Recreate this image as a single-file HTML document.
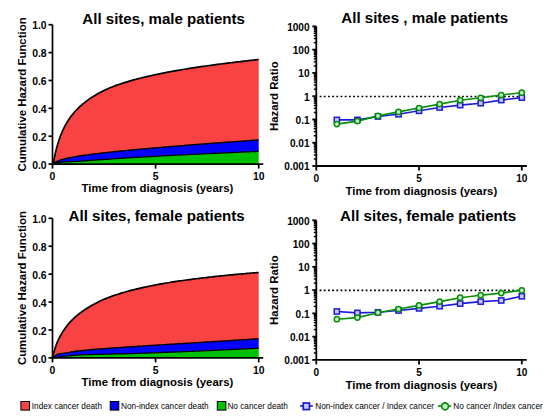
<!DOCTYPE html>
<html><head><meta charset="utf-8"><style>
html,body{margin:0;padding:0;background:#fff;}
body{width:550px;height:417px;overflow:hidden;}
svg{display:block;}
text{font-family:"Liberation Sans",sans-serif;fill:#000;}
</style></head><body>
<svg width="550" height="417" viewBox="0 0 550 417">
<rect width="550" height="417" fill="#fff"/>
<polygon fill="#00c000" points="52.50,164.10 52.63,164.05 52.76,164.01 52.89,163.97 53.02,163.93 53.15,163.89 53.28,163.85 53.41,163.81 53.54,163.77 53.67,163.73 53.81,163.70 53.94,163.66 54.07,163.62 54.20,163.58 54.33,163.54 54.46,163.51 54.59,163.47 54.72,163.43 54.85,163.39 54.98,163.35 55.11,163.32 55.24,163.28 55.37,163.24 55.50,163.21 55.63,163.17 55.76,163.13 55.89,163.09 56.02,163.06 56.15,163.03 56.28,163.01 56.42,162.98 56.55,162.96 56.68,162.94 56.81,162.91 56.94,162.89 57.07,162.86 57.20,162.84 57.33,162.81 57.46,162.79 57.59,162.77 57.72,162.74 57.85,162.72 57.98,162.69 58.11,162.67 58.24,162.65 58.37,162.62 58.50,162.60 58.63,162.57 58.76,162.55 58.89,162.53 59.03,162.50 59.16,162.48 59.29,162.46 59.42,162.43 59.55,162.41 59.68,162.38 59.81,162.36 59.94,162.34 60.07,162.32 60.20,162.31 60.33,162.30 60.46,162.29 60.59,162.28 60.72,162.27 60.85,162.26 60.98,162.25 61.11,162.24 61.24,162.23 61.37,162.22 61.50,162.21 61.64,162.20 61.77,162.19 61.90,162.18 62.03,162.17 62.16,162.16 62.29,162.15 62.42,162.14 62.55,162.13 62.68,162.12 62.81,162.11 64.46,161.99 66.10,161.91 67.75,161.84 69.39,161.76 71.04,161.68 72.69,161.59 74.33,161.50 75.98,161.42 77.63,161.34 79.27,161.23 80.92,161.12 82.56,161.01 84.21,160.90 85.86,160.80 87.50,160.69 89.15,160.59 90.79,160.48 92.44,160.35 94.09,160.23 95.73,160.10 97.38,159.98 99.02,159.86 100.67,159.74 102.32,159.62 103.96,159.51 105.61,159.39 107.26,159.28 108.90,159.16 110.55,159.05 112.19,158.94 113.84,158.83 115.49,158.72 117.13,158.61 118.78,158.50 120.42,158.40 122.07,158.29 123.72,158.19 125.36,158.08 127.01,157.98 128.66,157.88 130.30,157.78 131.95,157.68 133.59,157.58 135.24,157.48 136.89,157.38 138.53,157.28 140.18,157.19 141.82,157.09 143.47,157.00 145.12,156.90 146.76,156.81 148.41,156.71 150.06,156.62 151.70,156.53 153.35,156.44 154.99,156.35 156.64,156.26 158.29,156.17 159.93,156.08 161.58,155.99 163.22,155.90 164.87,155.81 166.52,155.72 168.16,155.64 169.81,155.55 171.45,155.46 173.10,155.38 174.75,155.29 176.39,155.21 178.04,155.12 179.69,155.04 181.33,154.96 182.98,154.87 184.62,154.79 186.27,154.71 187.92,154.63 189.56,154.55 191.21,154.47 192.85,154.38 194.50,154.30 196.15,154.22 197.79,154.14 199.44,154.07 201.09,153.99 202.73,153.91 204.38,153.83 206.02,153.75 207.67,153.67 209.32,153.60 210.96,153.52 212.61,153.44 214.25,153.37 215.90,153.29 217.55,153.22 219.19,153.14 220.84,153.06 222.49,152.99 224.13,152.91 225.78,152.84 227.42,152.77 229.07,152.69 230.72,152.62 232.36,152.55 234.01,152.47 235.65,152.40 237.30,152.33 238.95,152.25 240.59,152.18 242.24,152.11 243.88,152.04 245.53,151.97 247.18,151.90 248.82,151.83 250.47,151.75 252.12,151.68 253.76,151.61 255.41,151.54 257.05,151.47 258.70,151.40 258.70,164.1 52.5,164.1"/>
<polygon fill="#0000fb" points="52.50,164.10 52.63,163.95 52.76,163.83 52.89,163.72 53.02,163.61 53.15,163.50 53.28,163.40 53.41,163.30 53.54,163.21 53.67,163.12 53.81,163.03 53.94,162.94 54.07,162.85 54.20,162.77 54.33,162.69 54.46,162.61 54.59,162.53 54.72,162.45 54.85,162.38 54.98,162.31 55.11,162.23 55.24,162.16 55.37,162.09 55.50,162.03 55.63,161.96 55.76,161.89 55.89,161.83 56.02,161.77 56.15,161.70 56.28,161.64 56.42,161.58 56.55,161.52 56.68,161.46 56.81,161.41 56.94,161.35 57.07,161.29 57.20,161.24 57.33,161.18 57.46,161.13 57.59,161.08 57.72,161.02 57.85,160.97 57.98,160.92 58.11,160.87 58.24,160.82 58.37,160.77 58.50,160.72 58.63,160.67 58.76,160.63 58.89,160.58 59.03,160.53 59.16,160.49 59.29,160.44 59.42,160.39 59.55,160.35 59.68,160.31 59.81,160.26 59.94,160.22 60.07,160.18 60.20,160.13 60.33,160.09 60.46,160.05 60.59,160.01 60.72,159.97 60.85,159.93 60.98,159.89 61.11,159.85 61.24,159.81 61.37,159.77 61.50,159.73 61.64,159.69 61.77,159.65 61.90,159.61 62.03,159.58 62.16,159.54 62.29,159.50 62.42,159.46 62.55,159.43 62.68,159.39 62.81,159.36 64.46,158.92 66.10,158.52 67.75,158.15 69.39,157.80 71.04,157.47 72.69,157.16 74.33,156.87 75.98,156.58 77.63,156.31 79.27,156.04 80.92,155.79 82.56,155.54 84.21,155.30 85.86,155.07 87.50,154.84 89.15,154.62 90.79,154.40 92.44,154.19 94.09,153.98 95.73,153.78 97.38,153.58 99.02,153.38 100.67,153.19 102.32,153.00 103.96,152.81 105.61,152.63 107.26,152.45 108.90,152.27 110.55,152.09 112.19,151.92 113.84,151.74 115.49,151.57 117.13,151.40 118.78,151.24 120.42,151.07 122.07,150.91 123.72,150.74 125.36,150.58 127.01,150.42 128.66,150.27 130.30,150.11 131.95,149.96 133.59,149.80 135.24,149.65 136.89,149.50 138.53,149.35 140.18,149.20 141.82,149.05 143.47,148.90 145.12,148.75 146.76,148.61 148.41,148.46 150.06,148.32 151.70,148.18 153.35,148.03 154.99,147.89 156.64,147.75 158.29,147.61 159.93,147.47 161.58,147.33 163.22,147.19 164.87,147.06 166.52,146.92 168.16,146.78 169.81,146.65 171.45,146.51 173.10,146.38 174.75,146.25 176.39,146.11 178.04,145.98 179.69,145.85 181.33,145.72 182.98,145.58 184.62,145.45 186.27,145.32 187.92,145.19 189.56,145.06 191.21,144.93 192.85,144.81 194.50,144.68 196.15,144.55 197.79,144.42 199.44,144.30 201.09,144.17 202.73,144.04 204.38,143.92 206.02,143.79 207.67,143.67 209.32,143.54 210.96,143.42 212.61,143.29 214.25,143.17 215.90,143.05 217.55,142.92 219.19,142.80 220.84,142.68 222.49,142.55 224.13,142.43 225.78,142.31 227.42,142.19 229.07,142.07 230.72,141.95 232.36,141.83 234.01,141.71 235.65,141.59 237.30,141.47 238.95,141.35 240.59,141.23 242.24,141.11 243.88,140.99 245.53,140.87 247.18,140.75 248.82,140.63 250.47,140.52 252.12,140.40 253.76,140.28 255.41,140.16 257.05,140.05 258.70,139.93 258.70,151.40 257.05,151.47 255.41,151.54 253.76,151.61 252.12,151.68 250.47,151.75 248.82,151.83 247.18,151.90 245.53,151.97 243.88,152.04 242.24,152.11 240.59,152.18 238.95,152.25 237.30,152.33 235.65,152.40 234.01,152.47 232.36,152.55 230.72,152.62 229.07,152.69 227.42,152.77 225.78,152.84 224.13,152.91 222.49,152.99 220.84,153.06 219.19,153.14 217.55,153.22 215.90,153.29 214.25,153.37 212.61,153.44 210.96,153.52 209.32,153.60 207.67,153.67 206.02,153.75 204.38,153.83 202.73,153.91 201.09,153.99 199.44,154.07 197.79,154.14 196.15,154.22 194.50,154.30 192.85,154.38 191.21,154.47 189.56,154.55 187.92,154.63 186.27,154.71 184.62,154.79 182.98,154.87 181.33,154.96 179.69,155.04 178.04,155.12 176.39,155.21 174.75,155.29 173.10,155.38 171.45,155.46 169.81,155.55 168.16,155.64 166.52,155.72 164.87,155.81 163.22,155.90 161.58,155.99 159.93,156.08 158.29,156.17 156.64,156.26 154.99,156.35 153.35,156.44 151.70,156.53 150.06,156.62 148.41,156.71 146.76,156.81 145.12,156.90 143.47,157.00 141.82,157.09 140.18,157.19 138.53,157.28 136.89,157.38 135.24,157.48 133.59,157.58 131.95,157.68 130.30,157.78 128.66,157.88 127.01,157.98 125.36,158.08 123.72,158.19 122.07,158.29 120.42,158.40 118.78,158.50 117.13,158.61 115.49,158.72 113.84,158.83 112.19,158.94 110.55,159.05 108.90,159.16 107.26,159.28 105.61,159.39 103.96,159.51 102.32,159.62 100.67,159.74 99.02,159.86 97.38,159.98 95.73,160.10 94.09,160.23 92.44,160.35 90.79,160.48 89.15,160.59 87.50,160.69 85.86,160.80 84.21,160.90 82.56,161.01 80.92,161.12 79.27,161.23 77.63,161.34 75.98,161.42 74.33,161.50 72.69,161.59 71.04,161.68 69.39,161.76 67.75,161.84 66.10,161.91 64.46,161.99 62.81,162.11 62.68,162.12 62.55,162.13 62.42,162.14 62.29,162.15 62.16,162.16 62.03,162.17 61.90,162.18 61.77,162.19 61.64,162.20 61.50,162.21 61.37,162.22 61.24,162.23 61.11,162.24 60.98,162.25 60.85,162.26 60.72,162.27 60.59,162.28 60.46,162.29 60.33,162.30 60.20,162.31 60.07,162.32 59.94,162.34 59.81,162.36 59.68,162.38 59.55,162.41 59.42,162.43 59.29,162.46 59.16,162.48 59.03,162.50 58.89,162.53 58.76,162.55 58.63,162.57 58.50,162.60 58.37,162.62 58.24,162.65 58.11,162.67 57.98,162.69 57.85,162.72 57.72,162.74 57.59,162.77 57.46,162.79 57.33,162.81 57.20,162.84 57.07,162.86 56.94,162.89 56.81,162.91 56.68,162.94 56.55,162.96 56.42,162.98 56.28,163.01 56.15,163.03 56.02,163.06 55.89,163.09 55.76,163.13 55.63,163.17 55.50,163.21 55.37,163.24 55.24,163.28 55.11,163.32 54.98,163.35 54.85,163.39 54.72,163.43 54.59,163.47 54.46,163.51 54.33,163.54 54.20,163.58 54.07,163.62 53.94,163.66 53.81,163.70 53.67,163.73 53.54,163.77 53.41,163.81 53.28,163.85 53.15,163.89 53.02,163.93 52.89,163.97 52.76,164.01 52.63,164.05 52.50,164.10"/>
<polygon fill="#f94242" points="52.50,164.10 52.63,163.95 52.76,163.83 52.89,163.72 53.02,163.61 53.15,163.50 53.28,163.04 53.41,162.40 53.54,161.75 53.67,161.10 53.81,160.44 53.94,159.79 54.07,159.15 54.20,158.51 54.33,157.87 54.46,157.25 54.59,156.63 54.72,156.02 54.85,155.42 54.98,154.83 55.11,154.24 55.24,153.67 55.37,153.10 55.50,152.54 55.63,151.99 55.76,151.45 55.89,150.92 56.02,150.39 56.15,149.86 56.28,149.34 56.42,148.83 56.55,148.33 56.68,147.83 56.81,147.34 56.94,146.86 57.07,146.38 57.20,145.91 57.33,145.45 57.46,145.00 57.59,144.55 57.72,144.10 57.85,143.66 57.98,143.23 58.11,142.81 58.24,142.38 58.37,141.97 58.50,141.56 58.63,141.15 58.76,140.75 58.89,140.36 59.03,139.97 59.16,139.59 59.29,139.21 59.42,138.83 59.55,138.46 59.68,138.09 59.81,137.73 59.94,137.37 60.07,137.02 60.20,136.67 60.33,136.32 60.46,135.98 60.59,135.64 60.72,135.31 60.85,134.98 60.98,134.65 61.11,134.33 61.24,134.01 61.37,133.69 61.50,133.38 61.64,133.07 61.77,132.76 61.90,132.46 62.03,132.15 62.16,131.85 62.29,131.55 62.42,131.26 62.55,130.96 62.68,130.67 62.81,130.38 64.46,126.97 66.10,123.92 67.75,121.17 69.39,118.66 71.04,116.37 72.69,114.26 74.33,112.30 75.98,110.49 77.63,108.79 79.27,107.21 80.92,105.69 82.56,104.24 84.21,102.87 85.86,101.57 87.50,100.33 89.15,99.16 90.79,98.03 92.44,96.96 94.09,95.93 95.73,94.95 97.38,94.00 99.02,93.09 100.67,92.22 102.32,91.37 103.96,90.56 105.61,89.77 107.26,89.01 108.90,88.27 110.55,87.57 112.19,86.92 113.84,86.28 115.49,85.67 117.13,85.07 118.78,84.49 120.42,83.93 122.07,83.38 123.72,82.85 125.36,82.33 127.01,81.83 128.66,81.33 130.30,80.85 131.95,80.39 133.59,79.93 135.24,79.48 136.89,79.05 138.53,78.62 140.18,78.21 141.82,77.80 143.47,77.40 145.12,77.01 146.76,76.63 148.41,76.26 150.06,75.89 151.70,75.52 153.35,75.15 154.99,74.79 156.64,74.44 158.29,74.09 159.93,73.75 161.58,73.42 163.22,73.09 164.87,72.76 166.52,72.44 168.16,72.13 169.81,71.82 171.45,71.51 173.10,71.21 174.75,70.92 176.39,70.63 178.04,70.34 179.69,70.06 181.33,69.78 182.98,69.51 184.62,69.23 186.27,68.97 187.92,68.70 189.56,68.44 191.21,68.19 192.85,67.93 194.50,67.68 196.15,67.43 197.79,67.19 199.44,66.95 201.09,66.70 202.73,66.46 204.38,66.23 206.02,65.99 207.67,65.76 209.32,65.53 210.96,65.30 212.61,65.08 214.25,64.86 215.90,64.64 217.55,64.42 219.19,64.20 220.84,63.99 222.49,63.78 224.13,63.57 225.78,63.36 227.42,63.16 229.07,62.95 230.72,62.75 232.36,62.55 234.01,62.35 235.65,62.15 237.30,61.96 238.95,61.76 240.59,61.57 242.24,61.38 243.88,61.19 245.53,61.00 247.18,60.82 248.82,60.63 250.47,60.45 252.12,60.26 253.76,60.07 255.41,59.88 257.05,59.70 258.70,59.52 258.70,139.93 257.05,140.05 255.41,140.16 253.76,140.28 252.12,140.40 250.47,140.52 248.82,140.63 247.18,140.75 245.53,140.87 243.88,140.99 242.24,141.11 240.59,141.23 238.95,141.35 237.30,141.47 235.65,141.59 234.01,141.71 232.36,141.83 230.72,141.95 229.07,142.07 227.42,142.19 225.78,142.31 224.13,142.43 222.49,142.55 220.84,142.68 219.19,142.80 217.55,142.92 215.90,143.05 214.25,143.17 212.61,143.29 210.96,143.42 209.32,143.54 207.67,143.67 206.02,143.79 204.38,143.92 202.73,144.04 201.09,144.17 199.44,144.30 197.79,144.42 196.15,144.55 194.50,144.68 192.85,144.81 191.21,144.93 189.56,145.06 187.92,145.19 186.27,145.32 184.62,145.45 182.98,145.58 181.33,145.72 179.69,145.85 178.04,145.98 176.39,146.11 174.75,146.25 173.10,146.38 171.45,146.51 169.81,146.65 168.16,146.78 166.52,146.92 164.87,147.06 163.22,147.19 161.58,147.33 159.93,147.47 158.29,147.61 156.64,147.75 154.99,147.89 153.35,148.03 151.70,148.18 150.06,148.32 148.41,148.46 146.76,148.61 145.12,148.75 143.47,148.90 141.82,149.05 140.18,149.20 138.53,149.35 136.89,149.50 135.24,149.65 133.59,149.80 131.95,149.96 130.30,150.11 128.66,150.27 127.01,150.42 125.36,150.58 123.72,150.74 122.07,150.91 120.42,151.07 118.78,151.24 117.13,151.40 115.49,151.57 113.84,151.74 112.19,151.92 110.55,152.09 108.90,152.27 107.26,152.45 105.61,152.63 103.96,152.81 102.32,153.00 100.67,153.19 99.02,153.38 97.38,153.58 95.73,153.78 94.09,153.98 92.44,154.19 90.79,154.40 89.15,154.62 87.50,154.84 85.86,155.07 84.21,155.30 82.56,155.54 80.92,155.79 79.27,156.04 77.63,156.31 75.98,156.58 74.33,156.87 72.69,157.16 71.04,157.47 69.39,157.80 67.75,158.15 66.10,158.52 64.46,158.92 62.81,159.36 62.68,159.39 62.55,159.43 62.42,159.46 62.29,159.50 62.16,159.54 62.03,159.58 61.90,159.61 61.77,159.65 61.64,159.69 61.50,159.73 61.37,159.77 61.24,159.81 61.11,159.85 60.98,159.89 60.85,159.93 60.72,159.97 60.59,160.01 60.46,160.05 60.33,160.09 60.20,160.13 60.07,160.18 59.94,160.22 59.81,160.26 59.68,160.31 59.55,160.35 59.42,160.39 59.29,160.44 59.16,160.49 59.03,160.53 58.89,160.58 58.76,160.63 58.63,160.67 58.50,160.72 58.37,160.77 58.24,160.82 58.11,160.87 57.98,160.92 57.85,160.97 57.72,161.02 57.59,161.08 57.46,161.13 57.33,161.18 57.20,161.24 57.07,161.29 56.94,161.35 56.81,161.41 56.68,161.46 56.55,161.52 56.42,161.58 56.28,161.64 56.15,161.70 56.02,161.77 55.89,161.83 55.76,161.89 55.63,161.96 55.50,162.03 55.37,162.09 55.24,162.16 55.11,162.23 54.98,162.31 54.85,162.38 54.72,162.45 54.59,162.53 54.46,162.61 54.33,162.69 54.20,162.77 54.07,162.85 53.94,162.94 53.81,163.03 53.67,163.12 53.54,163.21 53.41,163.30 53.28,163.40 53.15,163.50 53.02,163.61 52.89,163.72 52.76,163.83 52.63,163.95 52.50,164.10"/>
<polyline fill="none" stroke="#000" stroke-width="1.25" points="52.50,164.10 52.63,164.05 52.76,164.01 52.89,163.97 53.02,163.93 53.15,163.89 53.28,163.85 53.41,163.81 53.54,163.77 53.67,163.73 53.81,163.70 53.94,163.66 54.07,163.62 54.20,163.58 54.33,163.54 54.46,163.51 54.59,163.47 54.72,163.43 54.85,163.39 54.98,163.35 55.11,163.32 55.24,163.28 55.37,163.24 55.50,163.21 55.63,163.17 55.76,163.13 55.89,163.09 56.02,163.06 56.15,163.03 56.28,163.01 56.42,162.98 56.55,162.96 56.68,162.94 56.81,162.91 56.94,162.89 57.07,162.86 57.20,162.84 57.33,162.81 57.46,162.79 57.59,162.77 57.72,162.74 57.85,162.72 57.98,162.69 58.11,162.67 58.24,162.65 58.37,162.62 58.50,162.60 58.63,162.57 58.76,162.55 58.89,162.53 59.03,162.50 59.16,162.48 59.29,162.46 59.42,162.43 59.55,162.41 59.68,162.38 59.81,162.36 59.94,162.34 60.07,162.32 60.20,162.31 60.33,162.30 60.46,162.29 60.59,162.28 60.72,162.27 60.85,162.26 60.98,162.25 61.11,162.24 61.24,162.23 61.37,162.22 61.50,162.21 61.64,162.20 61.77,162.19 61.90,162.18 62.03,162.17 62.16,162.16 62.29,162.15 62.42,162.14 62.55,162.13 62.68,162.12 62.81,162.11 64.46,161.99 66.10,161.91 67.75,161.84 69.39,161.76 71.04,161.68 72.69,161.59 74.33,161.50 75.98,161.42 77.63,161.34 79.27,161.23 80.92,161.12 82.56,161.01 84.21,160.90 85.86,160.80 87.50,160.69 89.15,160.59 90.79,160.48 92.44,160.35 94.09,160.23 95.73,160.10 97.38,159.98 99.02,159.86 100.67,159.74 102.32,159.62 103.96,159.51 105.61,159.39 107.26,159.28 108.90,159.16 110.55,159.05 112.19,158.94 113.84,158.83 115.49,158.72 117.13,158.61 118.78,158.50 120.42,158.40 122.07,158.29 123.72,158.19 125.36,158.08 127.01,157.98 128.66,157.88 130.30,157.78 131.95,157.68 133.59,157.58 135.24,157.48 136.89,157.38 138.53,157.28 140.18,157.19 141.82,157.09 143.47,157.00 145.12,156.90 146.76,156.81 148.41,156.71 150.06,156.62 151.70,156.53 153.35,156.44 154.99,156.35 156.64,156.26 158.29,156.17 159.93,156.08 161.58,155.99 163.22,155.90 164.87,155.81 166.52,155.72 168.16,155.64 169.81,155.55 171.45,155.46 173.10,155.38 174.75,155.29 176.39,155.21 178.04,155.12 179.69,155.04 181.33,154.96 182.98,154.87 184.62,154.79 186.27,154.71 187.92,154.63 189.56,154.55 191.21,154.47 192.85,154.38 194.50,154.30 196.15,154.22 197.79,154.14 199.44,154.07 201.09,153.99 202.73,153.91 204.38,153.83 206.02,153.75 207.67,153.67 209.32,153.60 210.96,153.52 212.61,153.44 214.25,153.37 215.90,153.29 217.55,153.22 219.19,153.14 220.84,153.06 222.49,152.99 224.13,152.91 225.78,152.84 227.42,152.77 229.07,152.69 230.72,152.62 232.36,152.55 234.01,152.47 235.65,152.40 237.30,152.33 238.95,152.25 240.59,152.18 242.24,152.11 243.88,152.04 245.53,151.97 247.18,151.90 248.82,151.83 250.47,151.75 252.12,151.68 253.76,151.61 255.41,151.54 257.05,151.47 258.70,151.40"/>
<polyline fill="none" stroke="#000" stroke-width="1.4" points="52.50,164.10 52.63,163.95 52.76,163.83 52.89,163.72 53.02,163.61 53.15,163.50 53.28,163.40 53.41,163.30 53.54,163.21 53.67,163.12 53.81,163.03 53.94,162.94 54.07,162.85 54.20,162.77 54.33,162.69 54.46,162.61 54.59,162.53 54.72,162.45 54.85,162.38 54.98,162.31 55.11,162.23 55.24,162.16 55.37,162.09 55.50,162.03 55.63,161.96 55.76,161.89 55.89,161.83 56.02,161.77 56.15,161.70 56.28,161.64 56.42,161.58 56.55,161.52 56.68,161.46 56.81,161.41 56.94,161.35 57.07,161.29 57.20,161.24 57.33,161.18 57.46,161.13 57.59,161.08 57.72,161.02 57.85,160.97 57.98,160.92 58.11,160.87 58.24,160.82 58.37,160.77 58.50,160.72 58.63,160.67 58.76,160.63 58.89,160.58 59.03,160.53 59.16,160.49 59.29,160.44 59.42,160.39 59.55,160.35 59.68,160.31 59.81,160.26 59.94,160.22 60.07,160.18 60.20,160.13 60.33,160.09 60.46,160.05 60.59,160.01 60.72,159.97 60.85,159.93 60.98,159.89 61.11,159.85 61.24,159.81 61.37,159.77 61.50,159.73 61.64,159.69 61.77,159.65 61.90,159.61 62.03,159.58 62.16,159.54 62.29,159.50 62.42,159.46 62.55,159.43 62.68,159.39 62.81,159.36 64.46,158.92 66.10,158.52 67.75,158.15 69.39,157.80 71.04,157.47 72.69,157.16 74.33,156.87 75.98,156.58 77.63,156.31 79.27,156.04 80.92,155.79 82.56,155.54 84.21,155.30 85.86,155.07 87.50,154.84 89.15,154.62 90.79,154.40 92.44,154.19 94.09,153.98 95.73,153.78 97.38,153.58 99.02,153.38 100.67,153.19 102.32,153.00 103.96,152.81 105.61,152.63 107.26,152.45 108.90,152.27 110.55,152.09 112.19,151.92 113.84,151.74 115.49,151.57 117.13,151.40 118.78,151.24 120.42,151.07 122.07,150.91 123.72,150.74 125.36,150.58 127.01,150.42 128.66,150.27 130.30,150.11 131.95,149.96 133.59,149.80 135.24,149.65 136.89,149.50 138.53,149.35 140.18,149.20 141.82,149.05 143.47,148.90 145.12,148.75 146.76,148.61 148.41,148.46 150.06,148.32 151.70,148.18 153.35,148.03 154.99,147.89 156.64,147.75 158.29,147.61 159.93,147.47 161.58,147.33 163.22,147.19 164.87,147.06 166.52,146.92 168.16,146.78 169.81,146.65 171.45,146.51 173.10,146.38 174.75,146.25 176.39,146.11 178.04,145.98 179.69,145.85 181.33,145.72 182.98,145.58 184.62,145.45 186.27,145.32 187.92,145.19 189.56,145.06 191.21,144.93 192.85,144.81 194.50,144.68 196.15,144.55 197.79,144.42 199.44,144.30 201.09,144.17 202.73,144.04 204.38,143.92 206.02,143.79 207.67,143.67 209.32,143.54 210.96,143.42 212.61,143.29 214.25,143.17 215.90,143.05 217.55,142.92 219.19,142.80 220.84,142.68 222.49,142.55 224.13,142.43 225.78,142.31 227.42,142.19 229.07,142.07 230.72,141.95 232.36,141.83 234.01,141.71 235.65,141.59 237.30,141.47 238.95,141.35 240.59,141.23 242.24,141.11 243.88,140.99 245.53,140.87 247.18,140.75 248.82,140.63 250.47,140.52 252.12,140.40 253.76,140.28 255.41,140.16 257.05,140.05 258.70,139.93"/>
<polyline fill="none" stroke="#000" stroke-width="1.7" points="52.50,164.10 52.63,163.95 52.76,163.83 52.89,163.72 53.02,163.61 53.15,163.50 53.28,163.04 53.41,162.40 53.54,161.75 53.67,161.10 53.81,160.44 53.94,159.79 54.07,159.15 54.20,158.51 54.33,157.87 54.46,157.25 54.59,156.63 54.72,156.02 54.85,155.42 54.98,154.83 55.11,154.24 55.24,153.67 55.37,153.10 55.50,152.54 55.63,151.99 55.76,151.45 55.89,150.92 56.02,150.39 56.15,149.86 56.28,149.34 56.42,148.83 56.55,148.33 56.68,147.83 56.81,147.34 56.94,146.86 57.07,146.38 57.20,145.91 57.33,145.45 57.46,145.00 57.59,144.55 57.72,144.10 57.85,143.66 57.98,143.23 58.11,142.81 58.24,142.38 58.37,141.97 58.50,141.56 58.63,141.15 58.76,140.75 58.89,140.36 59.03,139.97 59.16,139.59 59.29,139.21 59.42,138.83 59.55,138.46 59.68,138.09 59.81,137.73 59.94,137.37 60.07,137.02 60.20,136.67 60.33,136.32 60.46,135.98 60.59,135.64 60.72,135.31 60.85,134.98 60.98,134.65 61.11,134.33 61.24,134.01 61.37,133.69 61.50,133.38 61.64,133.07 61.77,132.76 61.90,132.46 62.03,132.15 62.16,131.85 62.29,131.55 62.42,131.26 62.55,130.96 62.68,130.67 62.81,130.38 64.46,126.97 66.10,123.92 67.75,121.17 69.39,118.66 71.04,116.37 72.69,114.26 74.33,112.30 75.98,110.49 77.63,108.79 79.27,107.21 80.92,105.69 82.56,104.24 84.21,102.87 85.86,101.57 87.50,100.33 89.15,99.16 90.79,98.03 92.44,96.96 94.09,95.93 95.73,94.95 97.38,94.00 99.02,93.09 100.67,92.22 102.32,91.37 103.96,90.56 105.61,89.77 107.26,89.01 108.90,88.27 110.55,87.57 112.19,86.92 113.84,86.28 115.49,85.67 117.13,85.07 118.78,84.49 120.42,83.93 122.07,83.38 123.72,82.85 125.36,82.33 127.01,81.83 128.66,81.33 130.30,80.85 131.95,80.39 133.59,79.93 135.24,79.48 136.89,79.05 138.53,78.62 140.18,78.21 141.82,77.80 143.47,77.40 145.12,77.01 146.76,76.63 148.41,76.26 150.06,75.89 151.70,75.52 153.35,75.15 154.99,74.79 156.64,74.44 158.29,74.09 159.93,73.75 161.58,73.42 163.22,73.09 164.87,72.76 166.52,72.44 168.16,72.13 169.81,71.82 171.45,71.51 173.10,71.21 174.75,70.92 176.39,70.63 178.04,70.34 179.69,70.06 181.33,69.78 182.98,69.51 184.62,69.23 186.27,68.97 187.92,68.70 189.56,68.44 191.21,68.19 192.85,67.93 194.50,67.68 196.15,67.43 197.79,67.19 199.44,66.95 201.09,66.70 202.73,66.46 204.38,66.23 206.02,65.99 207.67,65.76 209.32,65.53 210.96,65.30 212.61,65.08 214.25,64.86 215.90,64.64 217.55,64.42 219.19,64.20 220.84,63.99 222.49,63.78 224.13,63.57 225.78,63.36 227.42,63.16 229.07,62.95 230.72,62.75 232.36,62.55 234.01,62.35 235.65,62.15 237.30,61.96 238.95,61.76 240.59,61.57 242.24,61.38 243.88,61.19 245.53,61.00 247.18,60.82 248.82,60.63 250.47,60.45 252.12,60.26 253.76,60.07 255.41,59.88 257.05,59.70 258.70,59.52"/>
<g stroke="#000" stroke-width="1.7" fill="none">
<path d="M52.5,24.70 V168.60"/>
<path d="M52.5,164.1 H263.20"/>
<path d="M48.5,164.10 H52.5"/>
<path d="M48.5,136.22 H52.5"/>
<path d="M48.5,108.34 H52.5"/>
<path d="M48.5,80.46 H52.5"/>
<path d="M48.5,52.58 H52.5"/>
<path d="M48.5,24.70 H52.5"/>
<path d="M155.60,164.1 V168.60"/>
<path d="M258.70,164.1 V168.60"/>
</g>
<text transform="translate(46.60,168.70) scale(1.0,1.04)" font-size="10.4" font-weight="bold" text-anchor="end">0.0</text>
<text transform="translate(46.60,140.82) scale(1.0,1.04)" font-size="10.4" font-weight="bold" text-anchor="end">0.2</text>
<text transform="translate(46.60,112.94) scale(1.0,1.04)" font-size="10.4" font-weight="bold" text-anchor="end">0.4</text>
<text transform="translate(46.60,85.06) scale(1.0,1.04)" font-size="10.4" font-weight="bold" text-anchor="end">0.6</text>
<text transform="translate(46.60,57.18) scale(1.0,1.04)" font-size="10.4" font-weight="bold" text-anchor="end">0.8</text>
<text transform="translate(46.60,29.30) scale(1.0,1.04)" font-size="10.4" font-weight="bold" text-anchor="end">1.0</text>
<text transform="translate(52.50,180.10) scale(1.0,1.04)" font-size="10.4" font-weight="bold" text-anchor="middle">0</text>
<text transform="translate(155.60,180.10) scale(1.0,1.04)" font-size="10.4" font-weight="bold" text-anchor="middle">5</text>
<text transform="translate(258.70,180.10) scale(1.0,1.04)" font-size="10.4" font-weight="bold" text-anchor="middle">10</text>
<text transform="translate(82.30,23.50) scale(1.0,1.03)" font-size="15.1" font-weight="bold" text-anchor="start">All sites, male patients</text>
<text transform="translate(81.60,192.20)" font-size="11.4" font-weight="bold" text-anchor="start">Time from diagnosis (years)</text>
<text transform="translate(26.20,94.40) rotate(-90)" font-size="11.42" font-weight="bold" text-anchor="middle">Cumulative Hazard Function</text>
<polygon fill="#00c000" points="52.50,357.90 52.63,357.89 52.76,357.88 52.89,357.87 53.02,357.86 53.15,357.84 53.28,357.83 53.41,357.82 53.54,357.81 53.67,357.80 53.81,357.79 53.94,357.78 54.07,357.77 54.20,357.75 54.33,357.74 54.46,357.73 54.59,357.72 54.72,357.71 54.85,357.70 54.98,357.69 55.11,357.68 55.24,357.67 55.37,357.65 55.50,357.64 55.63,357.63 55.76,357.62 55.89,357.61 56.02,357.60 56.15,357.60 56.28,357.59 56.42,357.59 56.55,357.59 56.68,357.58 56.81,357.58 56.94,357.58 57.07,357.57 57.20,357.57 57.33,357.57 57.46,357.54 57.59,357.50 57.72,357.46 57.85,357.43 57.98,357.39 58.11,357.36 58.24,357.32 58.37,357.29 58.50,357.26 58.63,357.23 58.76,357.19 58.89,357.16 59.03,357.13 59.16,357.10 59.29,357.07 59.42,357.04 59.55,357.01 59.68,356.98 59.81,356.95 59.94,356.92 60.07,356.90 60.20,356.87 60.33,356.85 60.46,356.82 60.59,356.80 60.72,356.77 60.85,356.75 60.98,356.73 61.11,356.71 61.24,356.68 61.37,356.66 61.50,356.64 61.64,356.62 61.77,356.60 61.90,356.57 62.03,356.55 62.16,356.53 62.29,356.51 62.42,356.49 62.55,356.47 62.68,356.45 62.81,356.43 64.46,356.21 66.10,356.01 67.75,355.83 69.39,355.68 71.04,355.53 72.69,355.40 74.33,355.29 75.98,355.17 77.63,355.07 79.27,354.99 80.92,354.93 82.56,354.86 84.21,354.80 85.86,354.75 87.50,354.69 89.15,354.64 90.79,354.59 92.44,354.55 94.09,354.50 95.73,354.46 97.38,354.41 99.02,354.37 100.67,354.33 102.32,354.29 103.96,354.25 105.61,354.21 107.26,354.17 108.90,354.14 110.55,354.10 112.19,354.06 113.84,354.02 115.49,353.99 117.13,353.95 118.78,353.91 120.42,353.88 122.07,353.84 123.72,353.80 125.36,353.76 127.01,353.72 128.66,353.69 130.30,353.64 131.95,353.59 133.59,353.53 135.24,353.48 136.89,353.42 138.53,353.37 140.18,353.31 141.82,353.25 143.47,353.19 145.12,353.14 146.76,353.08 148.41,353.02 150.06,352.96 151.70,352.90 153.35,352.84 154.99,352.78 156.64,352.72 158.29,352.66 159.93,352.60 161.58,352.54 163.22,352.48 164.87,352.41 166.52,352.35 168.16,352.29 169.81,352.23 171.45,352.16 173.10,352.10 174.75,352.03 176.39,351.97 178.04,351.90 179.69,351.84 181.33,351.77 182.98,351.70 184.62,351.64 186.27,351.57 187.92,351.50 189.56,351.43 191.21,351.37 192.85,351.30 194.50,351.23 196.15,351.16 197.79,351.09 199.44,351.02 201.09,350.95 202.73,350.88 204.38,350.81 206.02,350.73 207.67,350.66 209.32,350.59 210.96,350.52 212.61,350.44 214.25,350.37 215.90,350.30 217.55,350.22 219.19,350.15 220.84,350.07 222.49,350.00 224.13,349.92 225.78,349.85 227.42,349.77 229.07,349.70 230.72,349.62 232.36,349.54 234.01,349.46 235.65,349.39 237.30,349.31 238.95,349.23 240.59,349.15 242.24,349.07 243.88,348.99 245.53,348.91 247.18,348.83 248.82,348.75 250.47,348.67 252.12,348.59 253.76,348.51 255.41,348.43 257.05,348.35 258.70,348.27 258.70,357.9 52.5,357.9"/>
<polygon fill="#0000fb" points="52.50,357.90 52.63,357.80 52.76,357.69 52.89,357.59 53.02,357.48 53.15,357.38 53.28,357.27 53.41,357.17 53.54,357.06 53.67,356.96 53.81,356.86 53.94,356.75 54.07,356.69 54.20,356.67 54.33,356.65 54.46,356.58 54.59,356.47 54.72,356.37 54.85,356.27 54.98,356.16 55.11,356.06 55.24,355.96 55.37,355.86 55.50,355.77 55.63,355.67 55.76,355.57 55.89,355.48 56.02,355.38 56.15,355.29 56.28,355.20 56.42,355.11 56.55,355.02 56.68,354.93 56.81,354.84 56.94,354.75 57.07,354.67 57.20,354.58 57.33,354.50 57.46,354.42 57.59,354.36 57.72,354.33 57.85,354.29 57.98,354.25 58.11,354.22 58.24,354.18 58.37,354.15 58.50,354.12 58.63,354.09 58.76,354.05 58.89,354.02 59.03,353.99 59.16,353.96 59.29,353.93 59.42,353.91 59.55,353.88 59.68,353.85 59.81,353.83 59.94,353.80 60.07,353.78 60.20,353.75 60.33,353.73 60.46,353.71 60.59,353.68 60.72,353.66 60.85,353.64 60.98,353.62 61.11,353.60 61.24,353.58 61.37,353.56 61.50,353.54 61.64,353.52 61.77,353.50 61.90,353.48 62.03,353.47 62.16,353.45 62.29,353.43 62.42,353.42 62.55,353.40 62.68,353.39 62.81,353.37 64.46,353.08 66.10,352.83 67.75,352.62 69.39,352.33 71.04,352.00 72.69,351.69 74.33,351.43 75.98,351.23 77.63,351.04 79.27,350.87 80.92,350.71 82.56,350.53 84.21,350.36 85.86,350.19 87.50,350.02 89.15,349.87 90.79,349.71 92.44,349.57 94.09,349.42 95.73,349.29 97.38,349.15 99.02,349.02 100.67,348.89 102.32,348.76 103.96,348.64 105.61,348.51 107.26,348.39 108.90,348.27 110.55,348.15 112.19,348.04 113.84,347.92 115.49,347.81 117.13,347.70 118.78,347.59 120.42,347.48 122.07,347.37 123.72,347.26 125.36,347.15 127.01,347.05 128.66,346.94 130.30,346.84 131.95,346.73 133.59,346.62 135.24,346.51 136.89,346.40 138.53,346.30 140.18,346.19 141.82,346.09 143.47,345.98 145.12,345.87 146.76,345.77 148.41,345.66 150.06,345.56 151.70,345.46 153.35,345.35 154.99,345.25 156.64,345.15 158.29,345.04 159.93,344.94 161.58,344.84 163.22,344.73 164.87,344.63 166.52,344.53 168.16,344.43 169.81,344.32 171.45,344.22 173.10,344.12 174.75,344.02 176.39,343.91 178.04,343.81 179.69,343.71 181.33,343.61 182.98,343.51 184.62,343.40 186.27,343.30 187.92,343.20 189.56,343.10 191.21,343.00 192.85,342.89 194.50,342.79 196.15,342.69 197.79,342.59 199.44,342.48 201.09,342.38 202.73,342.28 204.38,342.18 206.02,342.07 207.67,341.97 209.32,341.87 210.96,341.77 212.61,341.66 214.25,341.56 215.90,341.46 217.55,341.35 219.19,341.25 220.84,341.15 222.49,341.04 224.13,340.94 225.78,340.84 227.42,340.73 229.07,340.63 230.72,340.53 232.36,340.42 234.01,340.32 235.65,340.21 237.30,340.11 238.95,340.00 240.59,339.90 242.24,339.80 243.88,339.69 245.53,339.59 247.18,339.48 248.82,339.38 250.47,339.27 252.12,339.16 253.76,339.06 255.41,338.95 257.05,338.85 258.70,338.74 258.70,348.27 257.05,348.35 255.41,348.43 253.76,348.51 252.12,348.59 250.47,348.67 248.82,348.75 247.18,348.83 245.53,348.91 243.88,348.99 242.24,349.07 240.59,349.15 238.95,349.23 237.30,349.31 235.65,349.39 234.01,349.46 232.36,349.54 230.72,349.62 229.07,349.70 227.42,349.77 225.78,349.85 224.13,349.92 222.49,350.00 220.84,350.07 219.19,350.15 217.55,350.22 215.90,350.30 214.25,350.37 212.61,350.44 210.96,350.52 209.32,350.59 207.67,350.66 206.02,350.73 204.38,350.81 202.73,350.88 201.09,350.95 199.44,351.02 197.79,351.09 196.15,351.16 194.50,351.23 192.85,351.30 191.21,351.37 189.56,351.43 187.92,351.50 186.27,351.57 184.62,351.64 182.98,351.70 181.33,351.77 179.69,351.84 178.04,351.90 176.39,351.97 174.75,352.03 173.10,352.10 171.45,352.16 169.81,352.23 168.16,352.29 166.52,352.35 164.87,352.41 163.22,352.48 161.58,352.54 159.93,352.60 158.29,352.66 156.64,352.72 154.99,352.78 153.35,352.84 151.70,352.90 150.06,352.96 148.41,353.02 146.76,353.08 145.12,353.14 143.47,353.19 141.82,353.25 140.18,353.31 138.53,353.37 136.89,353.42 135.24,353.48 133.59,353.53 131.95,353.59 130.30,353.64 128.66,353.69 127.01,353.72 125.36,353.76 123.72,353.80 122.07,353.84 120.42,353.88 118.78,353.91 117.13,353.95 115.49,353.99 113.84,354.02 112.19,354.06 110.55,354.10 108.90,354.14 107.26,354.17 105.61,354.21 103.96,354.25 102.32,354.29 100.67,354.33 99.02,354.37 97.38,354.41 95.73,354.46 94.09,354.50 92.44,354.55 90.79,354.59 89.15,354.64 87.50,354.69 85.86,354.75 84.21,354.80 82.56,354.86 80.92,354.93 79.27,354.99 77.63,355.07 75.98,355.17 74.33,355.29 72.69,355.40 71.04,355.53 69.39,355.68 67.75,355.83 66.10,356.01 64.46,356.21 62.81,356.43 62.68,356.45 62.55,356.47 62.42,356.49 62.29,356.51 62.16,356.53 62.03,356.55 61.90,356.57 61.77,356.60 61.64,356.62 61.50,356.64 61.37,356.66 61.24,356.68 61.11,356.71 60.98,356.73 60.85,356.75 60.72,356.77 60.59,356.80 60.46,356.82 60.33,356.85 60.20,356.87 60.07,356.90 59.94,356.92 59.81,356.95 59.68,356.98 59.55,357.01 59.42,357.04 59.29,357.07 59.16,357.10 59.03,357.13 58.89,357.16 58.76,357.19 58.63,357.23 58.50,357.26 58.37,357.29 58.24,357.32 58.11,357.36 57.98,357.39 57.85,357.43 57.72,357.46 57.59,357.50 57.46,357.54 57.33,357.57 57.20,357.57 57.07,357.57 56.94,357.58 56.81,357.58 56.68,357.58 56.55,357.59 56.42,357.59 56.28,357.59 56.15,357.60 56.02,357.60 55.89,357.61 55.76,357.62 55.63,357.63 55.50,357.64 55.37,357.65 55.24,357.67 55.11,357.68 54.98,357.69 54.85,357.70 54.72,357.71 54.59,357.72 54.46,357.73 54.33,357.74 54.20,357.75 54.07,357.77 53.94,357.78 53.81,357.79 53.67,357.80 53.54,357.81 53.41,357.82 53.28,357.83 53.15,357.84 53.02,357.86 52.89,357.87 52.76,357.88 52.63,357.89 52.50,357.90"/>
<polygon fill="#f94242" points="52.50,357.90 52.63,357.51 52.76,356.95 52.89,356.38 53.02,355.82 53.15,355.26 53.28,354.71 53.41,354.18 53.54,353.66 53.67,353.15 53.81,352.65 53.94,352.16 54.07,351.68 54.20,351.22 54.33,350.76 54.46,350.31 54.59,349.88 54.72,349.45 54.85,349.03 54.98,348.62 55.11,348.20 55.24,347.79 55.37,347.38 55.50,346.99 55.63,346.60 55.76,346.21 55.89,345.84 56.02,345.47 56.15,345.10 56.28,344.75 56.42,344.40 56.55,344.05 56.68,343.71 56.81,343.38 56.94,343.05 57.07,342.73 57.20,342.41 57.33,342.10 57.46,341.79 57.59,341.49 57.72,341.19 57.85,340.90 57.98,340.61 58.11,340.33 58.24,340.05 58.37,339.77 58.50,339.50 58.63,339.23 58.76,338.96 58.89,338.70 59.03,338.44 59.16,338.19 59.29,337.94 59.42,337.69 59.55,337.45 59.68,337.21 59.81,336.97 59.94,336.73 60.07,336.49 60.20,336.23 60.33,335.98 60.46,335.73 60.59,335.48 60.72,335.24 60.85,334.99 60.98,334.75 61.11,334.52 61.24,334.28 61.37,334.05 61.50,333.82 61.64,333.59 61.77,333.37 61.90,333.15 62.03,332.92 62.16,332.71 62.29,332.49 62.42,332.28 62.55,332.06 62.68,331.85 62.81,331.65 64.46,329.18 66.10,326.95 67.75,324.82 69.39,322.87 71.04,321.07 72.69,319.39 74.33,317.83 75.98,316.36 77.63,314.97 79.27,313.66 80.92,312.42 82.56,311.24 84.21,310.11 85.86,309.03 87.50,308.00 89.15,307.01 90.79,306.05 92.44,305.10 94.09,304.19 95.73,303.31 97.38,302.46 99.02,301.63 100.67,300.83 102.32,300.06 103.96,299.30 105.61,298.60 107.26,297.96 108.90,297.34 110.55,296.73 112.19,296.14 113.84,295.57 115.49,295.02 117.13,294.48 118.78,293.95 120.42,293.43 122.07,292.93 123.72,292.44 125.36,291.96 127.01,291.49 128.66,291.03 130.30,290.59 131.95,290.16 133.59,289.75 135.24,289.34 136.89,288.95 138.53,288.56 140.18,288.18 141.82,287.80 143.47,287.44 145.12,287.08 146.76,286.73 148.41,286.38 150.06,286.04 151.70,285.71 153.35,285.38 154.99,285.06 156.64,284.75 158.29,284.44 159.93,284.13 161.58,283.84 163.22,283.56 164.87,283.28 166.52,283.00 168.16,282.74 169.81,282.47 171.45,282.21 173.10,281.95 174.75,281.70 176.39,281.45 178.04,281.21 179.69,280.96 181.33,280.73 182.98,280.49 184.62,280.26 186.27,280.03 187.92,279.81 189.56,279.59 191.21,279.37 192.85,279.16 194.50,278.95 196.15,278.74 197.79,278.53 199.44,278.33 201.09,278.13 202.73,277.93 204.38,277.74 206.02,277.55 207.67,277.36 209.32,277.17 210.96,276.98 212.61,276.80 214.25,276.62 215.90,276.44 217.55,276.27 219.19,276.09 220.84,275.92 222.49,275.75 224.13,275.59 225.78,275.42 227.42,275.26 229.07,275.10 230.72,274.94 232.36,274.78 234.01,274.63 235.65,274.47 237.30,274.32 238.95,274.17 240.59,274.02 242.24,273.87 243.88,273.73 245.53,273.58 247.18,273.44 248.82,273.30 250.47,273.16 252.12,273.02 253.76,272.89 255.41,272.75 257.05,272.62 258.70,272.49 258.70,338.74 257.05,338.85 255.41,338.95 253.76,339.06 252.12,339.16 250.47,339.27 248.82,339.38 247.18,339.48 245.53,339.59 243.88,339.69 242.24,339.80 240.59,339.90 238.95,340.00 237.30,340.11 235.65,340.21 234.01,340.32 232.36,340.42 230.72,340.53 229.07,340.63 227.42,340.73 225.78,340.84 224.13,340.94 222.49,341.04 220.84,341.15 219.19,341.25 217.55,341.35 215.90,341.46 214.25,341.56 212.61,341.66 210.96,341.77 209.32,341.87 207.67,341.97 206.02,342.07 204.38,342.18 202.73,342.28 201.09,342.38 199.44,342.48 197.79,342.59 196.15,342.69 194.50,342.79 192.85,342.89 191.21,343.00 189.56,343.10 187.92,343.20 186.27,343.30 184.62,343.40 182.98,343.51 181.33,343.61 179.69,343.71 178.04,343.81 176.39,343.91 174.75,344.02 173.10,344.12 171.45,344.22 169.81,344.32 168.16,344.43 166.52,344.53 164.87,344.63 163.22,344.73 161.58,344.84 159.93,344.94 158.29,345.04 156.64,345.15 154.99,345.25 153.35,345.35 151.70,345.46 150.06,345.56 148.41,345.66 146.76,345.77 145.12,345.87 143.47,345.98 141.82,346.09 140.18,346.19 138.53,346.30 136.89,346.40 135.24,346.51 133.59,346.62 131.95,346.73 130.30,346.84 128.66,346.94 127.01,347.05 125.36,347.15 123.72,347.26 122.07,347.37 120.42,347.48 118.78,347.59 117.13,347.70 115.49,347.81 113.84,347.92 112.19,348.04 110.55,348.15 108.90,348.27 107.26,348.39 105.61,348.51 103.96,348.64 102.32,348.76 100.67,348.89 99.02,349.02 97.38,349.15 95.73,349.29 94.09,349.42 92.44,349.57 90.79,349.71 89.15,349.87 87.50,350.02 85.86,350.19 84.21,350.36 82.56,350.53 80.92,350.71 79.27,350.87 77.63,351.04 75.98,351.23 74.33,351.43 72.69,351.69 71.04,352.00 69.39,352.33 67.75,352.62 66.10,352.83 64.46,353.08 62.81,353.37 62.68,353.39 62.55,353.40 62.42,353.42 62.29,353.43 62.16,353.45 62.03,353.47 61.90,353.48 61.77,353.50 61.64,353.52 61.50,353.54 61.37,353.56 61.24,353.58 61.11,353.60 60.98,353.62 60.85,353.64 60.72,353.66 60.59,353.68 60.46,353.71 60.33,353.73 60.20,353.75 60.07,353.78 59.94,353.80 59.81,353.83 59.68,353.85 59.55,353.88 59.42,353.91 59.29,353.93 59.16,353.96 59.03,353.99 58.89,354.02 58.76,354.05 58.63,354.09 58.50,354.12 58.37,354.15 58.24,354.18 58.11,354.22 57.98,354.25 57.85,354.29 57.72,354.33 57.59,354.36 57.46,354.42 57.33,354.50 57.20,354.58 57.07,354.67 56.94,354.75 56.81,354.84 56.68,354.93 56.55,355.02 56.42,355.11 56.28,355.20 56.15,355.29 56.02,355.38 55.89,355.48 55.76,355.57 55.63,355.67 55.50,355.77 55.37,355.86 55.24,355.96 55.11,356.06 54.98,356.16 54.85,356.27 54.72,356.37 54.59,356.47 54.46,356.58 54.33,356.65 54.20,356.67 54.07,356.69 53.94,356.75 53.81,356.86 53.67,356.96 53.54,357.06 53.41,357.17 53.28,357.27 53.15,357.38 53.02,357.48 52.89,357.59 52.76,357.69 52.63,357.80 52.50,357.90"/>
<polyline fill="none" stroke="#000" stroke-width="1.25" points="52.50,357.90 52.63,357.89 52.76,357.88 52.89,357.87 53.02,357.86 53.15,357.84 53.28,357.83 53.41,357.82 53.54,357.81 53.67,357.80 53.81,357.79 53.94,357.78 54.07,357.77 54.20,357.75 54.33,357.74 54.46,357.73 54.59,357.72 54.72,357.71 54.85,357.70 54.98,357.69 55.11,357.68 55.24,357.67 55.37,357.65 55.50,357.64 55.63,357.63 55.76,357.62 55.89,357.61 56.02,357.60 56.15,357.60 56.28,357.59 56.42,357.59 56.55,357.59 56.68,357.58 56.81,357.58 56.94,357.58 57.07,357.57 57.20,357.57 57.33,357.57 57.46,357.54 57.59,357.50 57.72,357.46 57.85,357.43 57.98,357.39 58.11,357.36 58.24,357.32 58.37,357.29 58.50,357.26 58.63,357.23 58.76,357.19 58.89,357.16 59.03,357.13 59.16,357.10 59.29,357.07 59.42,357.04 59.55,357.01 59.68,356.98 59.81,356.95 59.94,356.92 60.07,356.90 60.20,356.87 60.33,356.85 60.46,356.82 60.59,356.80 60.72,356.77 60.85,356.75 60.98,356.73 61.11,356.71 61.24,356.68 61.37,356.66 61.50,356.64 61.64,356.62 61.77,356.60 61.90,356.57 62.03,356.55 62.16,356.53 62.29,356.51 62.42,356.49 62.55,356.47 62.68,356.45 62.81,356.43 64.46,356.21 66.10,356.01 67.75,355.83 69.39,355.68 71.04,355.53 72.69,355.40 74.33,355.29 75.98,355.17 77.63,355.07 79.27,354.99 80.92,354.93 82.56,354.86 84.21,354.80 85.86,354.75 87.50,354.69 89.15,354.64 90.79,354.59 92.44,354.55 94.09,354.50 95.73,354.46 97.38,354.41 99.02,354.37 100.67,354.33 102.32,354.29 103.96,354.25 105.61,354.21 107.26,354.17 108.90,354.14 110.55,354.10 112.19,354.06 113.84,354.02 115.49,353.99 117.13,353.95 118.78,353.91 120.42,353.88 122.07,353.84 123.72,353.80 125.36,353.76 127.01,353.72 128.66,353.69 130.30,353.64 131.95,353.59 133.59,353.53 135.24,353.48 136.89,353.42 138.53,353.37 140.18,353.31 141.82,353.25 143.47,353.19 145.12,353.14 146.76,353.08 148.41,353.02 150.06,352.96 151.70,352.90 153.35,352.84 154.99,352.78 156.64,352.72 158.29,352.66 159.93,352.60 161.58,352.54 163.22,352.48 164.87,352.41 166.52,352.35 168.16,352.29 169.81,352.23 171.45,352.16 173.10,352.10 174.75,352.03 176.39,351.97 178.04,351.90 179.69,351.84 181.33,351.77 182.98,351.70 184.62,351.64 186.27,351.57 187.92,351.50 189.56,351.43 191.21,351.37 192.85,351.30 194.50,351.23 196.15,351.16 197.79,351.09 199.44,351.02 201.09,350.95 202.73,350.88 204.38,350.81 206.02,350.73 207.67,350.66 209.32,350.59 210.96,350.52 212.61,350.44 214.25,350.37 215.90,350.30 217.55,350.22 219.19,350.15 220.84,350.07 222.49,350.00 224.13,349.92 225.78,349.85 227.42,349.77 229.07,349.70 230.72,349.62 232.36,349.54 234.01,349.46 235.65,349.39 237.30,349.31 238.95,349.23 240.59,349.15 242.24,349.07 243.88,348.99 245.53,348.91 247.18,348.83 248.82,348.75 250.47,348.67 252.12,348.59 253.76,348.51 255.41,348.43 257.05,348.35 258.70,348.27"/>
<polyline fill="none" stroke="#000" stroke-width="1.4" points="52.50,357.90 52.63,357.80 52.76,357.69 52.89,357.59 53.02,357.48 53.15,357.38 53.28,357.27 53.41,357.17 53.54,357.06 53.67,356.96 53.81,356.86 53.94,356.75 54.07,356.69 54.20,356.67 54.33,356.65 54.46,356.58 54.59,356.47 54.72,356.37 54.85,356.27 54.98,356.16 55.11,356.06 55.24,355.96 55.37,355.86 55.50,355.77 55.63,355.67 55.76,355.57 55.89,355.48 56.02,355.38 56.15,355.29 56.28,355.20 56.42,355.11 56.55,355.02 56.68,354.93 56.81,354.84 56.94,354.75 57.07,354.67 57.20,354.58 57.33,354.50 57.46,354.42 57.59,354.36 57.72,354.33 57.85,354.29 57.98,354.25 58.11,354.22 58.24,354.18 58.37,354.15 58.50,354.12 58.63,354.09 58.76,354.05 58.89,354.02 59.03,353.99 59.16,353.96 59.29,353.93 59.42,353.91 59.55,353.88 59.68,353.85 59.81,353.83 59.94,353.80 60.07,353.78 60.20,353.75 60.33,353.73 60.46,353.71 60.59,353.68 60.72,353.66 60.85,353.64 60.98,353.62 61.11,353.60 61.24,353.58 61.37,353.56 61.50,353.54 61.64,353.52 61.77,353.50 61.90,353.48 62.03,353.47 62.16,353.45 62.29,353.43 62.42,353.42 62.55,353.40 62.68,353.39 62.81,353.37 64.46,353.08 66.10,352.83 67.75,352.62 69.39,352.33 71.04,352.00 72.69,351.69 74.33,351.43 75.98,351.23 77.63,351.04 79.27,350.87 80.92,350.71 82.56,350.53 84.21,350.36 85.86,350.19 87.50,350.02 89.15,349.87 90.79,349.71 92.44,349.57 94.09,349.42 95.73,349.29 97.38,349.15 99.02,349.02 100.67,348.89 102.32,348.76 103.96,348.64 105.61,348.51 107.26,348.39 108.90,348.27 110.55,348.15 112.19,348.04 113.84,347.92 115.49,347.81 117.13,347.70 118.78,347.59 120.42,347.48 122.07,347.37 123.72,347.26 125.36,347.15 127.01,347.05 128.66,346.94 130.30,346.84 131.95,346.73 133.59,346.62 135.24,346.51 136.89,346.40 138.53,346.30 140.18,346.19 141.82,346.09 143.47,345.98 145.12,345.87 146.76,345.77 148.41,345.66 150.06,345.56 151.70,345.46 153.35,345.35 154.99,345.25 156.64,345.15 158.29,345.04 159.93,344.94 161.58,344.84 163.22,344.73 164.87,344.63 166.52,344.53 168.16,344.43 169.81,344.32 171.45,344.22 173.10,344.12 174.75,344.02 176.39,343.91 178.04,343.81 179.69,343.71 181.33,343.61 182.98,343.51 184.62,343.40 186.27,343.30 187.92,343.20 189.56,343.10 191.21,343.00 192.85,342.89 194.50,342.79 196.15,342.69 197.79,342.59 199.44,342.48 201.09,342.38 202.73,342.28 204.38,342.18 206.02,342.07 207.67,341.97 209.32,341.87 210.96,341.77 212.61,341.66 214.25,341.56 215.90,341.46 217.55,341.35 219.19,341.25 220.84,341.15 222.49,341.04 224.13,340.94 225.78,340.84 227.42,340.73 229.07,340.63 230.72,340.53 232.36,340.42 234.01,340.32 235.65,340.21 237.30,340.11 238.95,340.00 240.59,339.90 242.24,339.80 243.88,339.69 245.53,339.59 247.18,339.48 248.82,339.38 250.47,339.27 252.12,339.16 253.76,339.06 255.41,338.95 257.05,338.85 258.70,338.74"/>
<polyline fill="none" stroke="#000" stroke-width="1.7" points="52.50,357.90 52.63,357.51 52.76,356.95 52.89,356.38 53.02,355.82 53.15,355.26 53.28,354.71 53.41,354.18 53.54,353.66 53.67,353.15 53.81,352.65 53.94,352.16 54.07,351.68 54.20,351.22 54.33,350.76 54.46,350.31 54.59,349.88 54.72,349.45 54.85,349.03 54.98,348.62 55.11,348.20 55.24,347.79 55.37,347.38 55.50,346.99 55.63,346.60 55.76,346.21 55.89,345.84 56.02,345.47 56.15,345.10 56.28,344.75 56.42,344.40 56.55,344.05 56.68,343.71 56.81,343.38 56.94,343.05 57.07,342.73 57.20,342.41 57.33,342.10 57.46,341.79 57.59,341.49 57.72,341.19 57.85,340.90 57.98,340.61 58.11,340.33 58.24,340.05 58.37,339.77 58.50,339.50 58.63,339.23 58.76,338.96 58.89,338.70 59.03,338.44 59.16,338.19 59.29,337.94 59.42,337.69 59.55,337.45 59.68,337.21 59.81,336.97 59.94,336.73 60.07,336.49 60.20,336.23 60.33,335.98 60.46,335.73 60.59,335.48 60.72,335.24 60.85,334.99 60.98,334.75 61.11,334.52 61.24,334.28 61.37,334.05 61.50,333.82 61.64,333.59 61.77,333.37 61.90,333.15 62.03,332.92 62.16,332.71 62.29,332.49 62.42,332.28 62.55,332.06 62.68,331.85 62.81,331.65 64.46,329.18 66.10,326.95 67.75,324.82 69.39,322.87 71.04,321.07 72.69,319.39 74.33,317.83 75.98,316.36 77.63,314.97 79.27,313.66 80.92,312.42 82.56,311.24 84.21,310.11 85.86,309.03 87.50,308.00 89.15,307.01 90.79,306.05 92.44,305.10 94.09,304.19 95.73,303.31 97.38,302.46 99.02,301.63 100.67,300.83 102.32,300.06 103.96,299.30 105.61,298.60 107.26,297.96 108.90,297.34 110.55,296.73 112.19,296.14 113.84,295.57 115.49,295.02 117.13,294.48 118.78,293.95 120.42,293.43 122.07,292.93 123.72,292.44 125.36,291.96 127.01,291.49 128.66,291.03 130.30,290.59 131.95,290.16 133.59,289.75 135.24,289.34 136.89,288.95 138.53,288.56 140.18,288.18 141.82,287.80 143.47,287.44 145.12,287.08 146.76,286.73 148.41,286.38 150.06,286.04 151.70,285.71 153.35,285.38 154.99,285.06 156.64,284.75 158.29,284.44 159.93,284.13 161.58,283.84 163.22,283.56 164.87,283.28 166.52,283.00 168.16,282.74 169.81,282.47 171.45,282.21 173.10,281.95 174.75,281.70 176.39,281.45 178.04,281.21 179.69,280.96 181.33,280.73 182.98,280.49 184.62,280.26 186.27,280.03 187.92,279.81 189.56,279.59 191.21,279.37 192.85,279.16 194.50,278.95 196.15,278.74 197.79,278.53 199.44,278.33 201.09,278.13 202.73,277.93 204.38,277.74 206.02,277.55 207.67,277.36 209.32,277.17 210.96,276.98 212.61,276.80 214.25,276.62 215.90,276.44 217.55,276.27 219.19,276.09 220.84,275.92 222.49,275.75 224.13,275.59 225.78,275.42 227.42,275.26 229.07,275.10 230.72,274.94 232.36,274.78 234.01,274.63 235.65,274.47 237.30,274.32 238.95,274.17 240.59,274.02 242.24,273.87 243.88,273.73 245.53,273.58 247.18,273.44 248.82,273.30 250.47,273.16 252.12,273.02 253.76,272.89 255.41,272.75 257.05,272.62 258.70,272.49"/>
<g stroke="#000" stroke-width="1.7" fill="none">
<path d="M52.5,218.30 V362.40"/>
<path d="M52.5,357.9 H263.20"/>
<path d="M48.5,357.90 H52.5"/>
<path d="M48.5,329.98 H52.5"/>
<path d="M48.5,302.06 H52.5"/>
<path d="M48.5,274.14 H52.5"/>
<path d="M48.5,246.22 H52.5"/>
<path d="M48.5,218.30 H52.5"/>
<path d="M155.60,357.9 V362.40"/>
<path d="M258.70,357.9 V362.40"/>
</g>
<text transform="translate(46.60,362.50) scale(1.0,1.04)" font-size="10.4" font-weight="bold" text-anchor="end">0.0</text>
<text transform="translate(46.60,334.58) scale(1.0,1.04)" font-size="10.4" font-weight="bold" text-anchor="end">0.2</text>
<text transform="translate(46.60,306.66) scale(1.0,1.04)" font-size="10.4" font-weight="bold" text-anchor="end">0.4</text>
<text transform="translate(46.60,278.74) scale(1.0,1.04)" font-size="10.4" font-weight="bold" text-anchor="end">0.6</text>
<text transform="translate(46.60,250.82) scale(1.0,1.04)" font-size="10.4" font-weight="bold" text-anchor="end">0.8</text>
<text transform="translate(46.60,222.90) scale(1.0,1.04)" font-size="10.4" font-weight="bold" text-anchor="end">1.0</text>
<text transform="translate(52.50,373.90) scale(1.0,1.04)" font-size="10.4" font-weight="bold" text-anchor="middle">0</text>
<text transform="translate(155.60,373.90) scale(1.0,1.04)" font-size="10.4" font-weight="bold" text-anchor="middle">5</text>
<text transform="translate(258.70,373.90) scale(1.0,1.04)" font-size="10.4" font-weight="bold" text-anchor="middle">10</text>
<text transform="translate(68.60,221.30) scale(1.0,1.03)" font-size="15.1" font-weight="bold" text-anchor="start">All sites, female patients</text>
<text transform="translate(81.60,386.00)" font-size="11.4" font-weight="bold" text-anchor="start">Time from diagnosis (years)</text>
<text transform="translate(26.20,288.10) rotate(-90)" font-size="11.42" font-weight="bold" text-anchor="middle">Cumulative Hazard Function</text>
<g stroke="#000" stroke-width="1.8" fill="none">
<path d="M316.3,26.38 V170.50"/>
<path d="M316.3,166.0 H526.80"/>
<path d="M312.3,166.00 H316.3"/>
<path d="M312.3,142.73 H316.3"/>
<path d="M312.3,119.46 H316.3"/>
<path d="M312.3,96.19 H316.3"/>
<path d="M312.3,72.92 H316.3"/>
<path d="M312.3,49.65 H316.3"/>
<path d="M312.3,26.38 H316.3"/>
<path d="M419.05,166.0 V170.50"/>
<path d="M521.80,166.0 V170.50"/>
</g>
<g stroke="#000" stroke-width="1.45" fill="none">
<path d="M313.80,159.00 H316.3"/>
<path d="M313.80,154.90 H316.3"/>
<path d="M313.80,151.99 H316.3"/>
<path d="M313.80,149.73 H316.3"/>
<path d="M313.80,147.89 H316.3"/>
<path d="M313.80,146.33 H316.3"/>
<path d="M313.80,144.99 H316.3"/>
<path d="M313.80,143.79 H316.3"/>
<path d="M313.80,135.73 H316.3"/>
<path d="M313.80,131.63 H316.3"/>
<path d="M313.80,128.72 H316.3"/>
<path d="M313.80,126.46 H316.3"/>
<path d="M313.80,124.62 H316.3"/>
<path d="M313.80,123.06 H316.3"/>
<path d="M313.80,121.72 H316.3"/>
<path d="M313.80,120.52 H316.3"/>
<path d="M313.80,112.46 H316.3"/>
<path d="M313.80,108.36 H316.3"/>
<path d="M313.80,105.45 H316.3"/>
<path d="M313.80,103.19 H316.3"/>
<path d="M313.80,101.35 H316.3"/>
<path d="M313.80,99.79 H316.3"/>
<path d="M313.80,98.45 H316.3"/>
<path d="M313.80,97.25 H316.3"/>
<path d="M313.80,89.19 H316.3"/>
<path d="M313.80,85.09 H316.3"/>
<path d="M313.80,82.18 H316.3"/>
<path d="M313.80,79.92 H316.3"/>
<path d="M313.80,78.08 H316.3"/>
<path d="M313.80,76.52 H316.3"/>
<path d="M313.80,75.18 H316.3"/>
<path d="M313.80,73.98 H316.3"/>
<path d="M313.80,65.92 H316.3"/>
<path d="M313.80,61.82 H316.3"/>
<path d="M313.80,58.91 H316.3"/>
<path d="M313.80,56.65 H316.3"/>
<path d="M313.80,54.81 H316.3"/>
<path d="M313.80,53.25 H316.3"/>
<path d="M313.80,51.91 H316.3"/>
<path d="M313.80,50.71 H316.3"/>
<path d="M313.80,42.65 H316.3"/>
<path d="M313.80,38.55 H316.3"/>
<path d="M313.80,35.64 H316.3"/>
<path d="M313.80,33.38 H316.3"/>
<path d="M313.80,31.54 H316.3"/>
<path d="M313.80,29.98 H316.3"/>
<path d="M313.80,28.64 H316.3"/>
<path d="M313.80,27.44 H316.3"/>
</g>
<text transform="translate(309.60,170.40) scale(1.0,1.04)" font-size="10.1" font-weight="bold" text-anchor="end">0.001</text>
<text transform="translate(309.60,147.13) scale(1.0,1.04)" font-size="10.1" font-weight="bold" text-anchor="end">0.01</text>
<text transform="translate(309.60,123.86) scale(1.0,1.04)" font-size="10.1" font-weight="bold" text-anchor="end">0.1</text>
<text transform="translate(309.60,100.59) scale(1.0,1.04)" font-size="10.1" font-weight="bold" text-anchor="end">1</text>
<text transform="translate(309.60,77.32) scale(1.0,1.04)" font-size="10.1" font-weight="bold" text-anchor="end">10</text>
<text transform="translate(309.60,54.05) scale(1.0,1.04)" font-size="10.1" font-weight="bold" text-anchor="end">100</text>
<text transform="translate(309.60,30.78) scale(1.0,1.04)" font-size="10.1" font-weight="bold" text-anchor="end">1000</text>
<text transform="translate(316.30,182.00) scale(1.0,1.04)" font-size="10.1" font-weight="bold" text-anchor="middle">0</text>
<text transform="translate(419.05,182.00) scale(1.0,1.04)" font-size="10.1" font-weight="bold" text-anchor="middle">5</text>
<text transform="translate(521.80,182.00) scale(1.0,1.04)" font-size="10.1" font-weight="bold" text-anchor="middle">10</text>
<text transform="translate(341.30,23.40) scale(1.0,1.03)" font-size="15.1" font-weight="bold" text-anchor="start">All sites , male patients</text>
<text transform="translate(421.40,194.90)" font-size="11.4" font-weight="bold" text-anchor="middle">Time from diagnosis (years)</text>
<text transform="translate(277.60,96.19) rotate(-90)" font-size="11.4" font-weight="bold" text-anchor="middle">Hazard Ratio</text>
<path d="M319.60,96.49 H521.80" stroke="#000" stroke-width="1.6" stroke-dasharray="1.8,2.39" fill="none"/>
<polyline fill="none" stroke="#1c1cd8" stroke-width="1.6" points="336.85,119.90 357.40,119.90 377.95,116.50 398.50,114.30 419.05,110.80 439.60,107.50 460.15,105.10 480.70,103.20 501.25,100.10 521.80,97.60"/>
<polyline fill="none" stroke="#078f07" stroke-width="1.6" points="336.85,124.10 357.40,121.10 377.95,115.90 398.50,111.90 419.05,108.00 439.60,104.10 460.15,100.20 480.70,97.80 501.25,95.00 521.80,92.70"/>
<rect x="334.25" y="117.30" width="5.2" height="5.2" fill="#c8c8f4" stroke="#1c1cd8" stroke-width="1.5"/>
<rect x="354.80" y="117.30" width="5.2" height="5.2" fill="#c8c8f4" stroke="#1c1cd8" stroke-width="1.5"/>
<rect x="375.35" y="113.90" width="5.2" height="5.2" fill="#c8c8f4" stroke="#1c1cd8" stroke-width="1.5"/>
<rect x="395.90" y="111.70" width="5.2" height="5.2" fill="#c8c8f4" stroke="#1c1cd8" stroke-width="1.5"/>
<rect x="416.45" y="108.20" width="5.2" height="5.2" fill="#c8c8f4" stroke="#1c1cd8" stroke-width="1.5"/>
<rect x="437.00" y="104.90" width="5.2" height="5.2" fill="#c8c8f4" stroke="#1c1cd8" stroke-width="1.5"/>
<rect x="457.55" y="102.50" width="5.2" height="5.2" fill="#c8c8f4" stroke="#1c1cd8" stroke-width="1.5"/>
<rect x="478.10" y="100.60" width="5.2" height="5.2" fill="#c8c8f4" stroke="#1c1cd8" stroke-width="1.5"/>
<rect x="498.65" y="97.50" width="5.2" height="5.2" fill="#c8c8f4" stroke="#1c1cd8" stroke-width="1.5"/>
<rect x="519.20" y="95.00" width="5.2" height="5.2" fill="#c8c8f4" stroke="#1c1cd8" stroke-width="1.5"/>
<circle cx="336.85" cy="124.10" r="2.6" fill="#c8ecc8" stroke="#078f07" stroke-width="1.5"/>
<circle cx="357.40" cy="121.10" r="2.6" fill="#c8ecc8" stroke="#078f07" stroke-width="1.5"/>
<circle cx="377.95" cy="115.90" r="2.6" fill="#c8ecc8" stroke="#078f07" stroke-width="1.5"/>
<circle cx="398.50" cy="111.90" r="2.6" fill="#c8ecc8" stroke="#078f07" stroke-width="1.5"/>
<circle cx="419.05" cy="108.00" r="2.6" fill="#c8ecc8" stroke="#078f07" stroke-width="1.5"/>
<circle cx="439.60" cy="104.10" r="2.6" fill="#c8ecc8" stroke="#078f07" stroke-width="1.5"/>
<circle cx="460.15" cy="100.20" r="2.6" fill="#c8ecc8" stroke="#078f07" stroke-width="1.5"/>
<circle cx="480.70" cy="97.80" r="2.6" fill="#c8ecc8" stroke="#078f07" stroke-width="1.5"/>
<circle cx="501.25" cy="95.00" r="2.6" fill="#c8ecc8" stroke="#078f07" stroke-width="1.5"/>
<circle cx="521.80" cy="92.70" r="2.6" fill="#c8ecc8" stroke="#078f07" stroke-width="1.5"/>
<g stroke="#000" stroke-width="1.8" fill="none">
<path d="M316.3,220.28 V364.40"/>
<path d="M316.3,359.9 H526.80"/>
<path d="M312.3,359.90 H316.3"/>
<path d="M312.3,336.63 H316.3"/>
<path d="M312.3,313.36 H316.3"/>
<path d="M312.3,290.09 H316.3"/>
<path d="M312.3,266.82 H316.3"/>
<path d="M312.3,243.55 H316.3"/>
<path d="M312.3,220.28 H316.3"/>
<path d="M419.05,359.9 V364.40"/>
<path d="M521.80,359.9 V364.40"/>
</g>
<g stroke="#000" stroke-width="1.45" fill="none">
<path d="M313.80,352.90 H316.3"/>
<path d="M313.80,348.80 H316.3"/>
<path d="M313.80,345.89 H316.3"/>
<path d="M313.80,343.63 H316.3"/>
<path d="M313.80,341.79 H316.3"/>
<path d="M313.80,340.23 H316.3"/>
<path d="M313.80,338.89 H316.3"/>
<path d="M313.80,337.69 H316.3"/>
<path d="M313.80,329.63 H316.3"/>
<path d="M313.80,325.53 H316.3"/>
<path d="M313.80,322.62 H316.3"/>
<path d="M313.80,320.36 H316.3"/>
<path d="M313.80,318.52 H316.3"/>
<path d="M313.80,316.96 H316.3"/>
<path d="M313.80,315.62 H316.3"/>
<path d="M313.80,314.42 H316.3"/>
<path d="M313.80,306.36 H316.3"/>
<path d="M313.80,302.26 H316.3"/>
<path d="M313.80,299.35 H316.3"/>
<path d="M313.80,297.09 H316.3"/>
<path d="M313.80,295.25 H316.3"/>
<path d="M313.80,293.69 H316.3"/>
<path d="M313.80,292.35 H316.3"/>
<path d="M313.80,291.15 H316.3"/>
<path d="M313.80,283.09 H316.3"/>
<path d="M313.80,278.99 H316.3"/>
<path d="M313.80,276.08 H316.3"/>
<path d="M313.80,273.82 H316.3"/>
<path d="M313.80,271.98 H316.3"/>
<path d="M313.80,270.42 H316.3"/>
<path d="M313.80,269.08 H316.3"/>
<path d="M313.80,267.88 H316.3"/>
<path d="M313.80,259.82 H316.3"/>
<path d="M313.80,255.72 H316.3"/>
<path d="M313.80,252.81 H316.3"/>
<path d="M313.80,250.55 H316.3"/>
<path d="M313.80,248.71 H316.3"/>
<path d="M313.80,247.15 H316.3"/>
<path d="M313.80,245.81 H316.3"/>
<path d="M313.80,244.61 H316.3"/>
<path d="M313.80,236.55 H316.3"/>
<path d="M313.80,232.45 H316.3"/>
<path d="M313.80,229.54 H316.3"/>
<path d="M313.80,227.28 H316.3"/>
<path d="M313.80,225.44 H316.3"/>
<path d="M313.80,223.88 H316.3"/>
<path d="M313.80,222.54 H316.3"/>
<path d="M313.80,221.34 H316.3"/>
</g>
<text transform="translate(309.60,364.30) scale(1.0,1.04)" font-size="10.1" font-weight="bold" text-anchor="end">0.001</text>
<text transform="translate(309.60,341.03) scale(1.0,1.04)" font-size="10.1" font-weight="bold" text-anchor="end">0.01</text>
<text transform="translate(309.60,317.76) scale(1.0,1.04)" font-size="10.1" font-weight="bold" text-anchor="end">0.1</text>
<text transform="translate(309.60,294.49) scale(1.0,1.04)" font-size="10.1" font-weight="bold" text-anchor="end">1</text>
<text transform="translate(309.60,271.22) scale(1.0,1.04)" font-size="10.1" font-weight="bold" text-anchor="end">10</text>
<text transform="translate(309.60,247.95) scale(1.0,1.04)" font-size="10.1" font-weight="bold" text-anchor="end">100</text>
<text transform="translate(309.60,224.68) scale(1.0,1.04)" font-size="10.1" font-weight="bold" text-anchor="end">1000</text>
<text transform="translate(316.30,375.90) scale(1.0,1.04)" font-size="10.1" font-weight="bold" text-anchor="middle">0</text>
<text transform="translate(419.05,375.90) scale(1.0,1.04)" font-size="10.1" font-weight="bold" text-anchor="middle">5</text>
<text transform="translate(521.80,375.90) scale(1.0,1.04)" font-size="10.1" font-weight="bold" text-anchor="middle">10</text>
<text transform="translate(340.10,221.30) scale(1.0,1.03)" font-size="15.1" font-weight="bold" text-anchor="start">All sites, female patients</text>
<text transform="translate(421.40,388.80)" font-size="11.4" font-weight="bold" text-anchor="middle">Time from diagnosis (years)</text>
<text transform="translate(277.60,290.09) rotate(-90)" font-size="11.4" font-weight="bold" text-anchor="middle">Hazard Ratio</text>
<path d="M319.60,290.39 H521.80" stroke="#000" stroke-width="1.6" stroke-dasharray="1.8,2.39" fill="none"/>
<polyline fill="none" stroke="#1c1cd8" stroke-width="1.6" points="336.85,311.50 357.40,312.90 377.95,312.30 398.50,310.50 419.05,308.40 439.60,306.20 460.15,303.60 480.70,301.60 501.25,300.50 521.80,296.30"/>
<polyline fill="none" stroke="#078f07" stroke-width="1.6" points="336.85,319.20 357.40,317.60 377.95,312.70 398.50,309.00 419.05,305.40 439.60,301.60 460.15,297.70 480.70,295.20 501.25,293.10 521.80,290.30"/>
<rect x="334.25" y="308.90" width="5.2" height="5.2" fill="#c8c8f4" stroke="#1c1cd8" stroke-width="1.5"/>
<rect x="354.80" y="310.30" width="5.2" height="5.2" fill="#c8c8f4" stroke="#1c1cd8" stroke-width="1.5"/>
<rect x="375.35" y="309.70" width="5.2" height="5.2" fill="#c8c8f4" stroke="#1c1cd8" stroke-width="1.5"/>
<rect x="395.90" y="307.90" width="5.2" height="5.2" fill="#c8c8f4" stroke="#1c1cd8" stroke-width="1.5"/>
<rect x="416.45" y="305.80" width="5.2" height="5.2" fill="#c8c8f4" stroke="#1c1cd8" stroke-width="1.5"/>
<rect x="437.00" y="303.60" width="5.2" height="5.2" fill="#c8c8f4" stroke="#1c1cd8" stroke-width="1.5"/>
<rect x="457.55" y="301.00" width="5.2" height="5.2" fill="#c8c8f4" stroke="#1c1cd8" stroke-width="1.5"/>
<rect x="478.10" y="299.00" width="5.2" height="5.2" fill="#c8c8f4" stroke="#1c1cd8" stroke-width="1.5"/>
<rect x="498.65" y="297.90" width="5.2" height="5.2" fill="#c8c8f4" stroke="#1c1cd8" stroke-width="1.5"/>
<rect x="519.20" y="293.70" width="5.2" height="5.2" fill="#c8c8f4" stroke="#1c1cd8" stroke-width="1.5"/>
<circle cx="336.85" cy="319.20" r="2.6" fill="#c8ecc8" stroke="#078f07" stroke-width="1.5"/>
<circle cx="357.40" cy="317.60" r="2.6" fill="#c8ecc8" stroke="#078f07" stroke-width="1.5"/>
<circle cx="377.95" cy="312.70" r="2.6" fill="#c8ecc8" stroke="#078f07" stroke-width="1.5"/>
<circle cx="398.50" cy="309.00" r="2.6" fill="#c8ecc8" stroke="#078f07" stroke-width="1.5"/>
<circle cx="419.05" cy="305.40" r="2.6" fill="#c8ecc8" stroke="#078f07" stroke-width="1.5"/>
<circle cx="439.60" cy="301.60" r="2.6" fill="#c8ecc8" stroke="#078f07" stroke-width="1.5"/>
<circle cx="460.15" cy="297.70" r="2.6" fill="#c8ecc8" stroke="#078f07" stroke-width="1.5"/>
<circle cx="480.70" cy="295.20" r="2.6" fill="#c8ecc8" stroke="#078f07" stroke-width="1.5"/>
<circle cx="501.25" cy="293.10" r="2.6" fill="#c8ecc8" stroke="#078f07" stroke-width="1.5"/>
<circle cx="521.80" cy="290.30" r="2.6" fill="#c8ecc8" stroke="#078f07" stroke-width="1.5"/>
<rect x="20.90" y="401.50" width="8.6" height="8.6" fill="#f94242" stroke="#000" stroke-width="1"/>
<text transform="translate(31.80,408.90)" font-size="8.25" font-weight="normal" text-anchor="start">Index cancer death</text>
<rect x="110.20" y="401.50" width="8.6" height="8.6" fill="#0000fb" stroke="#000" stroke-width="1"/>
<text transform="translate(121.00,408.90)" font-size="8.25" font-weight="normal" text-anchor="start">Non-index cancer death</text>
<rect x="217.30" y="401.50" width="8.6" height="8.6" fill="#00c000" stroke="#000" stroke-width="1"/>
<text transform="translate(227.40,408.90)" font-size="8.25" font-weight="normal" text-anchor="start">No cancer death</text>
<path d="M300.1,406.0 H312.8" stroke="#1c1cd8" stroke-width="1.7"/>
<rect x="303.25" y="403.0" width="6.2" height="6.6" fill="#c8c8f4" stroke="#1c1cd8" stroke-width="1.7"/>
<text transform="translate(315.20,408.90)" font-size="8.25" font-weight="normal" text-anchor="start">Non-index cancer / Index cancer</text>
<path d="M437.9,406.0 H451.2" stroke="#078f07" stroke-width="1.7"/>
<ellipse cx="445.05" cy="406.3" rx="3.4" ry="3.5" fill="#c8ecc8" stroke="#078f07" stroke-width="1.7"/>
<text transform="translate(453.30,408.90)" font-size="8.25" font-weight="normal" text-anchor="start">No cancer /Index cancer</text>
</svg>
</body></html>
